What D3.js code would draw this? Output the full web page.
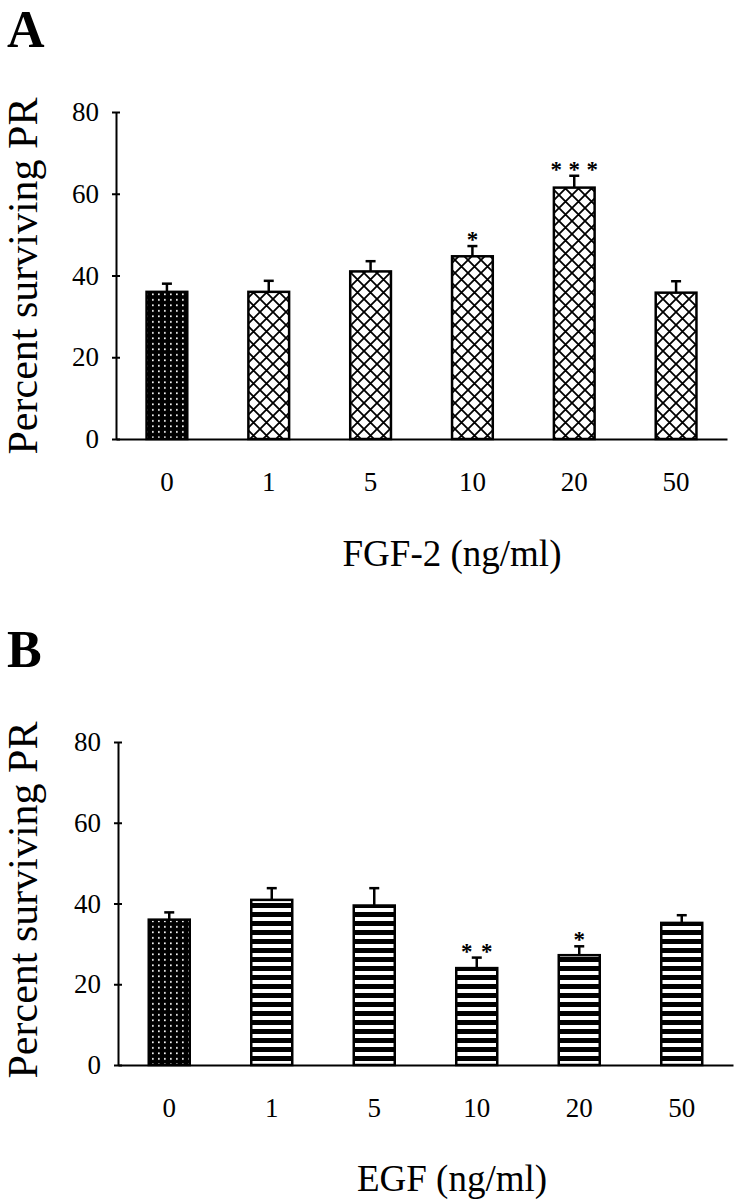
<!DOCTYPE html>
<html>
<head>
<meta charset="utf-8">
<script src="https://cdn.jsdelivr.net/npm/d3@7"></script>
<style>
  body { margin: 0; background: #fff; }
  text { font-family: 'Liberation Serif', 'Times New Roman', serif; fill: #000; }
</style>
</head>
<body>
<svg id="chart" width="738" height="1200"></svg>
<script>
const doses = ['0', '1', '5', '10', '20', '50'];
const yTicks = [0, 20, 40, 60, 80];

// panel A, FGF-2
const fgfMeans = [36, 36, 41, 44.7, 61.5, 35.8];
const fgfErrors = [2, 2.7, 2.5, 2.5, 2.9, 2.8];
const fgfStars = [0, 0, 0, 1, 3, 0];

// panel B, EGF
const egfMeans = [36, 40.9, 39.5, 24, 27.2, 35.2];
const egfErrors = [1.8, 2.9, 4.3, 2.6, 2.2, 1.9];
const egfStars = [0, 0, 0, 2, 1, 0];

const svg = d3.select('#chart');
const defs = svg.append('defs');

// black with white dots (control)
const dots = defs.append('pattern')
  .attr('id', 'dots')
  .attr('patternUnits', 'userSpaceOnUse')
  .attr('width', 6)
  .attr('height', 5.5);
dots.append('rect').attr('width', 6).attr('height', 5.5).attr('fill', '#000');
dots.append('rect').attr('x', 2).attr('y', 2).attr('width', 1.7).attr('height', 1.7).attr('fill', '#fff');

// diagonal crosshatch
const cross = defs.append('pattern')
  .attr('id', 'cross')
  .attr('patternUnits', 'userSpaceOnUse')
  .attr('width', 13)
  .attr('height', 13);
cross.append('rect').attr('width', 13).attr('height', 13).attr('fill', '#fff');
cross.append('path')
  .attr('d', 'M0,0L13,13M13,0L0,13')
  .attr('stroke', '#000')
  .attr('stroke-width', 1.8);

// horizontal stripes
const stripes = defs.append('pattern')
  .attr('id', 'stripes')
  .attr('patternUnits', 'userSpaceOnUse')
  .attr('patternTransform', 'translate(0,1065)')
  .attr('width', 10)
  .attr('height', 9);
stripes.append('rect').attr('width', 10).attr('height', 9).attr('fill', '#fff');
stripes.append('rect').attr('width', 10).attr('height', 5).attr('fill', '#000');

function drawPanel (cfg) {
  const x = d3.scaleBand()
    .domain(doses)
    .range([cfg.left, cfg.right])
    .paddingInner(0.6)
    .paddingOuter(0.3);
  const y = d3.scaleLinear()
    .domain([0, 80])
    .range([cfg.bottom, cfg.top]);

  const rows = doses.map((d, i) => ({
    dose: d,
    mean: cfg.means[i],
    err: cfg.errors[i],
    stars: cfg.stars[i],
    fill: i === 0 ? 'url(#dots)' : cfg.fill
  }));

  const g = svg.append('g');

  // y axis, ticks cross the line
  g.append('g')
    .attr('transform', `translate(${cfg.left},0)`)
    .call(d3.axisLeft(y).tickValues(yTicks).tickSizeInner(4).tickSizeOuter(0).tickPadding(13))
    .attr('font-size', 27)
    .call(a => a.selectAll('.tick line').attr('x1', 4).attr('stroke-width', 2))
    .call(a => a.select('.domain').attr('stroke-width', 2));

  // x axis
  g.append('g')
    .attr('transform', `translate(0,${y(0)})`)
    .call(d3.axisBottom(x).tickSize(0).tickPadding(33))
    .attr('font-size', 27)
    .call(a => a.select('.domain').attr('stroke-width', 2));

  const bar = g.append('g')
    .selectAll('g')
    .data(rows)
    .enter()
    .append('g');

  // upper error bar only
  bar.append('line')
    .attr('x1', d => x(d.dose) + x.bandwidth() / 2)
    .attr('x2', d => x(d.dose) + x.bandwidth() / 2)
    .attr('y1', d => y(d.mean))
    .attr('y2', d => y(d.mean + d.err))
    .attr('stroke', '#000')
    .attr('stroke-width', 2.5);
  bar.append('line')
    .attr('x1', d => x(d.dose) + x.bandwidth() / 2 - 5)
    .attr('x2', d => x(d.dose) + x.bandwidth() / 2 + 5)
    .attr('y1', d => y(d.mean + d.err))
    .attr('y2', d => y(d.mean + d.err))
    .attr('stroke', '#000')
    .attr('stroke-width', 2.5);

  bar.append('rect')
    .attr('x', d => x(d.dose))
    .attr('y', d => y(d.mean))
    .attr('width', x.bandwidth())
    .attr('height', d => y(0) - y(d.mean))
    .attr('fill', d => d.fill)
    .attr('stroke', '#000')
    .attr('stroke-width', 2.5);

  // significance stars
  bar.each(function (d) {
    for (let k = 0; k < d.stars; k++) {
      d3.select(this).append('text')
        .attr('x', x(d.dose) + x.bandwidth() / 2 + (k - (d.stars - 1) / 2) * cfg.starGap)
        .attr('y', y(d.mean + d.err) + 1)
        .attr('text-anchor', 'middle')
        .attr('font-weight', 'bold')
        .attr('font-size', 23)
        .text('*');
    }
  });

  svg.append('text')
    .attr('transform', `translate(37,${cfg.labelY}) rotate(-90)`)
    .attr('text-anchor', 'middle')
    .attr('font-size', 42)
    .text('Percent surviving PR');

  svg.append('text')
    .attr('x', 452)
    .attr('y', cfg.titleY)
    .attr('text-anchor', 'middle')
    .attr('font-size', 37)
    .text(cfg.title);

  svg.append('text')
    .attr('x', 7)
    .attr('y', cfg.letterY)
    .attr('font-weight', 'bold')
    .attr('font-size', 52)
    .text(cfg.letter);
}

drawPanel({
  letter: 'A', letterY: 47,
  title: 'FGF-2 (ng/ml)', titleY: 566,
  left: 116, right: 727, top: 112, bottom: 439, labelY: 276,
  means: fgfMeans, errors: fgfErrors, stars: fgfStars,
  fill: 'url(#cross)', starGap: 18
});

drawPanel({
  letter: 'B', letterY: 667,
  title: 'EGF (ng/ml)', titleY: 1191,
  left: 118, right: 733, top: 742, bottom: 1065, labelY: 900,
  means: egfMeans, errors: egfErrors, stars: egfStars,
  fill: 'url(#stripes)', starGap: 20
});
</script>
</body>
</html>
